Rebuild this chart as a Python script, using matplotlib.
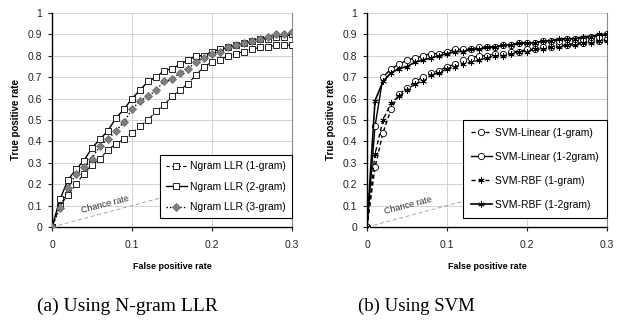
import numpy as np
import matplotlib
matplotlib.use("Agg")
import matplotlib.pyplot as plt

fpr = [i / 100 for i in range(31)]

ngram_1 = [0, 0.10, 0.15, 0.20, 0.25, 0.29, 0.32, 0.36, 0.39, 0.41, 0.44, 0.47, 0.50, 0.54, 0.57,
           0.61, 0.64, 0.67, 0.71, 0.75, 0.77, 0.78, 0.80, 0.81, 0.82, 0.83, 0.84, 0.84, 0.85, 0.85, 0.85]
ngram_2 = [0, 0.13, 0.22, 0.27, 0.31, 0.37, 0.41, 0.45, 0.51, 0.55, 0.60, 0.64, 0.68, 0.70, 0.73,
           0.74, 0.76, 0.78, 0.80, 0.80, 0.82, 0.83, 0.84, 0.85, 0.86, 0.87, 0.88, 0.88, 0.89, 0.89, 0.90]
ngram_3 = [0, 0.09, 0.18, 0.25, 0.28, 0.32, 0.38, 0.41, 0.45, 0.49, 0.55, 0.59, 0.61, 0.64, 0.68,
           0.69, 0.72, 0.74, 0.77, 0.79, 0.81, 0.82, 0.84, 0.85, 0.86, 0.87, 0.88, 0.89, 0.90, 0.90, 0.91]

svm_lin_1 = [0, 0.28, 0.44, 0.55, 0.62, 0.65, 0.68, 0.70, 0.72, 0.73, 0.75, 0.76, 0.78, 0.79, 0.80,
             0.80, 0.81, 0.81, 0.82, 0.82, 0.83, 0.83, 0.84, 0.84, 0.85, 0.85, 0.86, 0.86, 0.87, 0.87, 0.88]
svm_lin_12 = [0, 0.47, 0.70, 0.74, 0.76, 0.78, 0.79, 0.80, 0.81, 0.81, 0.82, 0.83, 0.83, 0.83, 0.84,
              0.84, 0.84, 0.85, 0.85, 0.86, 0.86, 0.86, 0.87, 0.87, 0.87, 0.88, 0.88, 0.88, 0.89, 0.89, 0.90]
svm_rbf_1 = [0, 0.34, 0.50, 0.58, 0.61, 0.64, 0.67, 0.68, 0.71, 0.72, 0.74, 0.75, 0.76, 0.77, 0.78,
             0.79, 0.80, 0.80, 0.81, 0.82, 0.82, 0.83, 0.83, 0.84, 0.84, 0.85, 0.85, 0.86, 0.86, 0.87, 0.87]
svm_rbf_12 = [0, 0.59, 0.68, 0.72, 0.74, 0.75, 0.77, 0.78, 0.79, 0.80, 0.81, 0.82, 0.82, 0.83, 0.83,
              0.84, 0.84, 0.85, 0.85, 0.86, 0.86, 0.86, 0.87, 0.87, 0.88, 0.88, 0.88, 0.89, 0.89, 0.90, 0.90]

chance_x = [0, 0.3]
chance_y = [0, 0.3]

xticks = [0, 0.1, 0.2, 0.3]
xticklabels = ["0", "0.1", "0.2", "0.3"]
yticks = [0, 0.1, 0.2, 0.3, 0.4, 0.5, 0.6, 0.7, 0.8, 0.9, 1.0]
yticklabels = ["0", "0.1", "0.2", "0.3", "0.4", "0.5", "0.6", "0.7", "0.8", "0.9", "1"]

plt.rcParams['font.family'] = ['Liberation Sans', 'DejaVu Sans']

W, H = 625, 325
fig = plt.figure(figsize=(W / 100, H / 100), dpi=100)


def make_ax(x0, x1, chance_pos):
    ax = fig.add_axes([x0 / W, 1 - 227 / H, (x1 - x0) / W, (227 - 13) / H])
    ax.set_xlim(0, 0.3)
    ax.set_ylim(0, 1)
    ax.set_xticks(xticks)
    ax.set_xticklabels(xticklabels)
    ax.set_yticks(yticks)
    ax.set_yticklabels(yticklabels)
    ax.tick_params(labelsize=7.5, length=3, width=0.8, pad=4, colors='#222222')
    ax.tick_params(axis='x', length=3, pad=6)
    ax.grid(True, color='#cccccc', linewidth=0.6)
    ax.set_axisbelow(True)
    ax.spines['top'].set_visible(False)
    ax.spines['right'].set_color('#888888')
    ax.spines['left'].set_linewidth(1.0)
    ax.spines['bottom'].set_linewidth(1.0)
    ax.set_xlabel("False positive rate", fontsize=6.5, fontweight='heavy', labelpad=9)
    ax.set_ylabel("True positive rate", fontsize=7, fontweight='heavy', labelpad=5)
    ax.plot(chance_x, chance_y, color='#999999', linestyle=(0, (5, 3)), linewidth=0.6, zorder=1)
    ax.text(chance_pos[0], chance_pos[1], "Chance rate", fontsize=6.5, color='#333333',
            rotation=14.5, rotation_mode='anchor')
    return ax


ax1 = make_ax(52, 292, (0.037, 0.065))
ms = 4.5
ax1.plot(fpr, ngram_1, color='black', linestyle=(0, (3, 2)), linewidth=0.8, marker='s',
         markersize=ms, markerfacecolor='white', markeredgecolor='black', markeredgewidth=0.6,
         label="Ngram LLR (1-gram)", zorder=3)
ax1.plot(fpr, ngram_2, color='black', linestyle='-', linewidth=1.0, marker='s',
         markersize=ms, markerfacecolor='white', markeredgecolor='black', markeredgewidth=0.6,
         label="Ngram LLR (2-gram)", zorder=3)
ax1.plot(fpr, ngram_3, color='black', linestyle=(0, (1, 1.5)), linewidth=1.0, marker='D',
         markersize=4, markerfacecolor='#808080', markeredgecolor='#606060', markeredgewidth=0.5,
         label="Ngram LLR (3-gram)", zorder=3)
leg1 = ax1.legend(loc='lower right', fontsize=7.5, frameon=True, fancybox=False,
                  edgecolor='black', framealpha=1, handlelength=2.0, handletextpad=0.3,
                  borderpad=0.6, labelspacing=1.0, borderaxespad=0,
                  bbox_to_anchor=(1.0, 0.04))
leg1.get_frame().set_linewidth(0.8)

ax2 = make_ax(367, 607, (0.022, 0.06))
star = (6, 2, 0)
ax2.plot(fpr, svm_lin_1, color='black', linestyle=(0, (3, 2)), linewidth=1.0, marker='o',
         markersize=ms, markerfacecolor='white', markeredgecolor='black', markeredgewidth=0.6,
         label="SVM-Linear (1-gram)", zorder=3)
ax2.plot(fpr, svm_lin_12, color='black', linestyle='-', linewidth=1.0, marker='o',
         markersize=ms, markerfacecolor='white', markeredgecolor='black', markeredgewidth=0.6,
         label="SVM-Linear (1-2gram)", zorder=3)
ax2.plot(fpr, svm_rbf_1, color='black', linestyle=(0, (3, 2)), linewidth=1.0, marker=star,
         markersize=ms, markeredgecolor='black', markeredgewidth=0.6,
         label="SVM-RBF (1-gram)", zorder=3)
ax2.plot(fpr, svm_rbf_12, color='black', linestyle='-', linewidth=1.2, marker=star,
         markersize=ms, markeredgecolor='black', markeredgewidth=0.6,
         label="SVM-RBF (1-2gram)", zorder=3)
leg2 = ax2.legend(loc='lower right', fontsize=7.5, frameon=True, fancybox=False,
                  edgecolor='black', framealpha=1, handlelength=2.0, handletextpad=0.3,
                  borderpad=0.8, labelspacing=1.35, borderaxespad=0,
                  bbox_to_anchor=(1.0, 0.04))
leg2.get_frame().set_linewidth(0.8)

cap_font = ['Liberation Serif', 'DejaVu Serif']
fig.text(127 / W, 1 - 306 / H, "(a) Using N-gram LLR", fontsize=14, ha='center',
         va='center', family=cap_font)
fig.text(416 / W, 1 - 306 / H, "(b) Using SVM", fontsize=13.5, ha='center',
         va='center', family=cap_font)

fig.savefig("out.png", dpi=100)
